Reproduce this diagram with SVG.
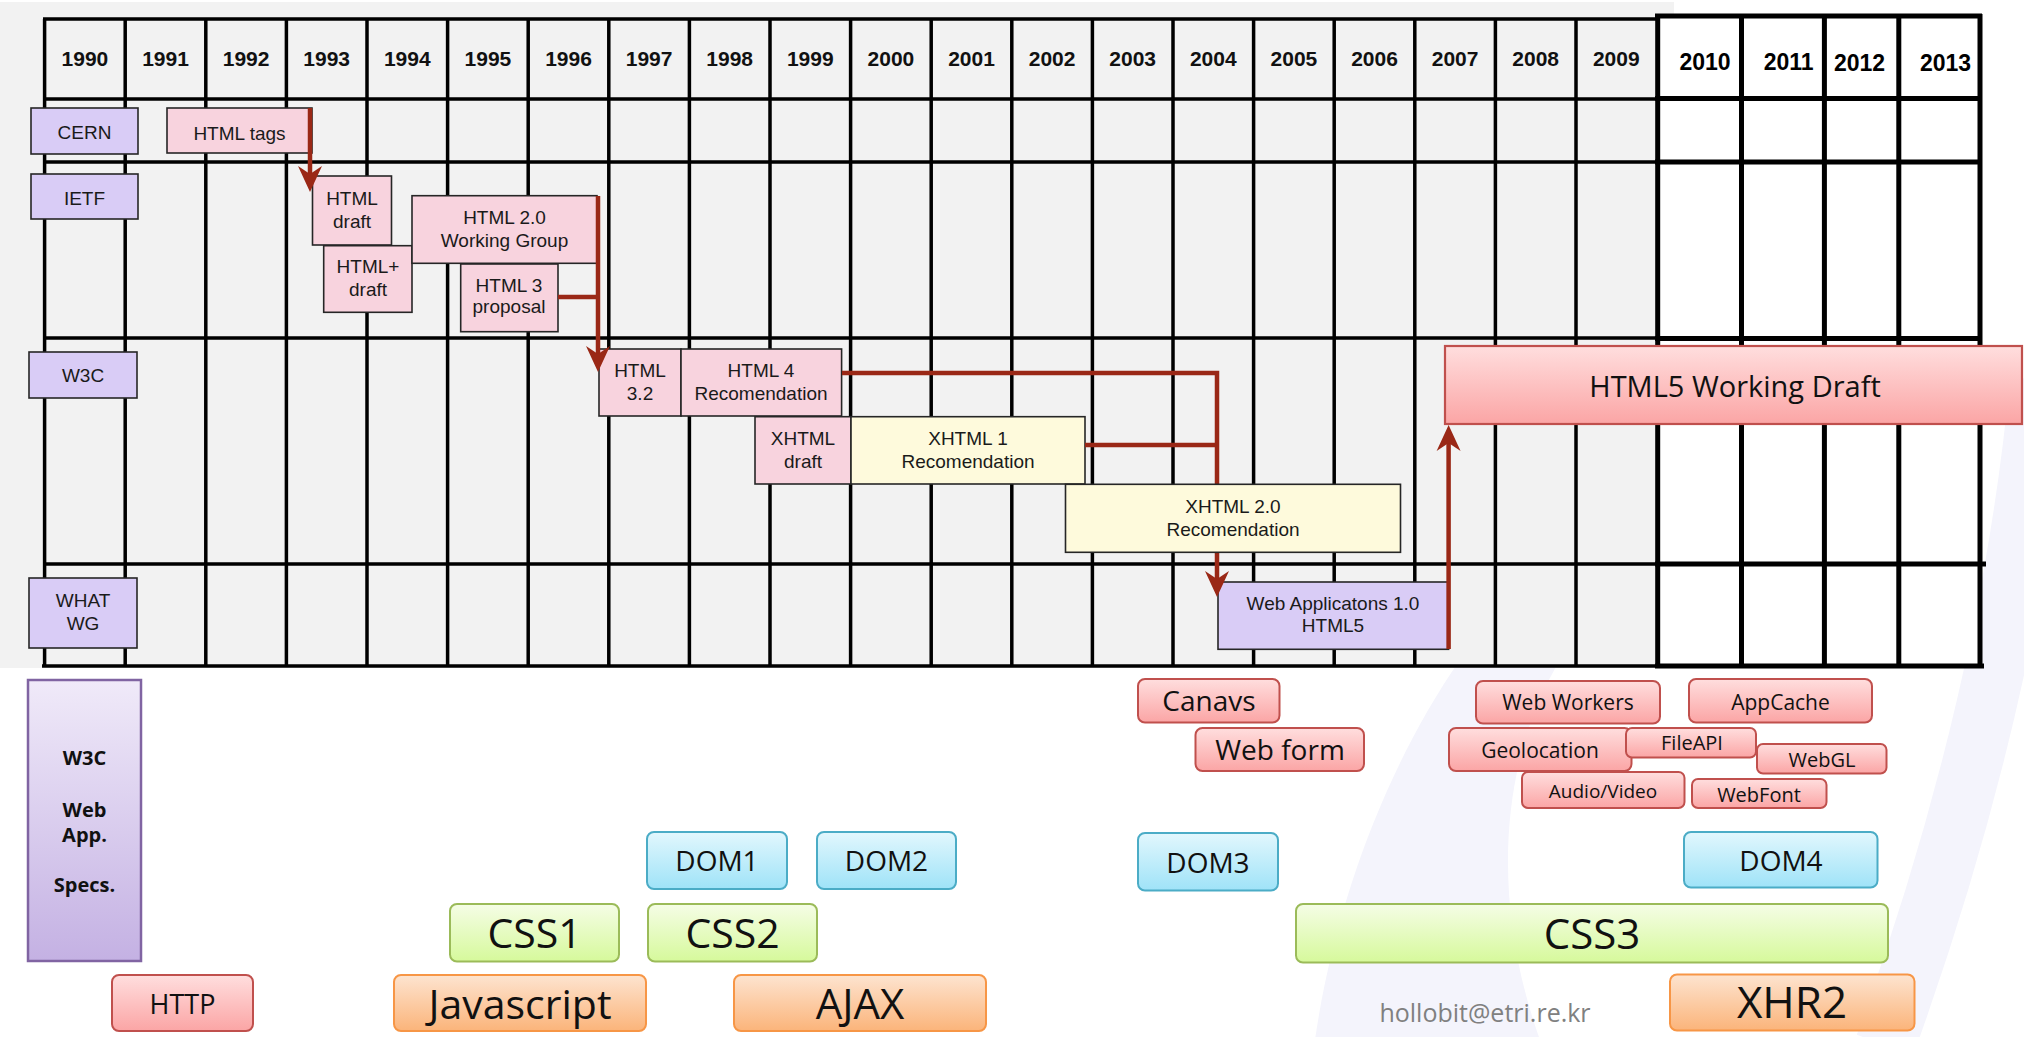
<svg xmlns="http://www.w3.org/2000/svg" width="2024" height="1037" viewBox="0 0 2024 1037">
<defs>
<style>
.g{font-family:"Liberation Sans",Arial,sans-serif;font-size:19px;fill:#1a1a1a;text-anchor:middle}
.yr{font-family:"Liberation Sans",Arial,sans-serif;font-weight:bold;font-size:21px;fill:#111;text-anchor:middle}
.yr2{font-family:"Liberation Sans",Arial,sans-serif;font-weight:bold;font-size:23px;fill:#000;text-anchor:middle}
.m{font-family:"Open Sans","Liberation Sans",sans-serif;fill:#111;text-anchor:middle}
.sp{font-family:"Open Sans","Liberation Sans",sans-serif;font-weight:bold;font-size:20px;fill:#111;text-anchor:middle}
.bx{stroke:#262626;stroke-width:1.6}
.pk{fill:#f8d3de}
.ye{fill:#fefadc}
.pu{fill:#d9ccf6}
.rP{fill:url(#gPink);stroke:#c0504d;stroke-width:2}
.rB{fill:url(#gBlue);stroke:#4bacc6;stroke-width:2}
.rG{fill:url(#gGreen);stroke:#9bbb59;stroke-width:2}
.rO{fill:url(#gOrange);stroke:#f79646;stroke-width:2}
.gl{fill:none;stroke:#000;stroke-width:3.5}
.gr{fill:none;stroke:#000;stroke-width:5}
.cn{fill:none;stroke:#9a2816;stroke-width:4.5}
</style>
<linearGradient id="gPink" x1="0" y1="0" x2="0" y2="1"><stop offset="0" stop-color="#ffdede"/><stop offset="1" stop-color="#fba5a5"/></linearGradient>
<linearGradient id="gBlue" x1="0" y1="0" x2="0" y2="1"><stop offset="0" stop-color="#e2f7fd"/><stop offset="1" stop-color="#9fe3f8"/></linearGradient>
<linearGradient id="gGreen" x1="0" y1="0" x2="0" y2="1"><stop offset="0" stop-color="#f5fde6"/><stop offset="1" stop-color="#d6f99b"/></linearGradient>
<linearGradient id="gOrange" x1="0" y1="0" x2="0" y2="1"><stop offset="0" stop-color="#fde4d0"/><stop offset="1" stop-color="#fbb47a"/></linearGradient>
<linearGradient id="gPurple" x1="0" y1="0" x2="0" y2="1"><stop offset="0" stop-color="#f0eaf9"/><stop offset="1" stop-color="#c4b1e3"/></linearGradient>
<marker id="ah" markerUnits="userSpaceOnUse" viewBox="-20 -14 34 28" refX="0" refY="0" markerWidth="34" markerHeight="28" orient="auto">
<path d="M10,0 L-16,-12 L-8,0 L-16,12 Z" fill="#9a2816"/>
</marker>
</defs>

<rect x="0" y="0" width="2024" height="1037" fill="#ffffff"/>
<g id="watermark" fill="#f4f4fc">
<path d="M1315,1040 C1335,900 1390,760 1460,660 L1560,660 C1500,760 1490,900 1540,1040 Z"/>
<path d="M2040,380 Q2010,700 1885,1045" fill="none" stroke="#f4f4fc" stroke-width="60"/>
</g>

<rect x="0" y="2" width="1674" height="666" fill="#f2f2f2"/>
<rect x="1657" y="16" width="323" height="650" fill="#ffffff"/>

<g id="grid">
<path class="gl" d="M44.6,19V666M125.2,19V666M205.8,19V666M286.4,19V666M367,19V666M447.6,19V666M528.2,19V666M608.8,19V666M689.4,19V666M770,19V666M850.6,19V666M931.2,19V666M1011.8,19V666M1092.4,19V666M1173,19V666M1253.6,19V666M1334.2,19V666M1414.8,19V666M1495.4,19V666M1576,19V666"/>
<path class="gl" d="M43,19H1657M43,99H1657M43,162H1657M43,338H1657M43,564H1657" stroke-width="4"/>
<path class="gl" d="M42,666H1657" stroke-width="7"/>
<path class="gr" d="M1657.7,14V668M1741.5,14V668M1824.4,14V668M1898.8,14V668M1980,14V668"/>
<path class="gr" d="M1655,16H1982M1655,98.5H1982M1655,162H1982M1655,338.5H1982M1655,564H1986"/>
<path class="gr" d="M1655,666H1984" stroke-width="7"/>
</g>

<g id="years">
<text class="yr" x="84.9" y="66">1990</text>
<text class="yr" x="165.5" y="66">1991</text>
<text class="yr" x="246.1" y="66">1992</text>
<text class="yr" x="326.7" y="66">1993</text>
<text class="yr" x="407.3" y="66">1994</text>
<text class="yr" x="487.9" y="66">1995</text>
<text class="yr" x="568.5" y="66">1996</text>
<text class="yr" x="649.1" y="66">1997</text>
<text class="yr" x="729.7" y="66">1998</text>
<text class="yr" x="810.3" y="66">1999</text>
<text class="yr" x="890.9" y="66">2000</text>
<text class="yr" x="971.5" y="66">2001</text>
<text class="yr" x="1052.1" y="66">2002</text>
<text class="yr" x="1132.7" y="66">2003</text>
<text class="yr" x="1213.3" y="66">2004</text>
<text class="yr" x="1293.9" y="66">2005</text>
<text class="yr" x="1374.5" y="66">2006</text>
<text class="yr" x="1455.1" y="66">2007</text>
<text class="yr" x="1535.7" y="66">2008</text>
<text class="yr" x="1616.3" y="66">2009</text>
<text class="yr2" x="1705" y="70">2010</text>
<text class="yr2" x="1788.6" y="70">2011</text>
<text class="yr2" x="1859.6" y="71">2012</text>
<text class="yr2" x="1945.6" y="71">2013</text>
</g>

<g id="cern"><rect class="bx pu" x="31" y="108" width="107" height="46"/><text class="g" x="84.5" y="139">CERN</text></g>
<g id="ietf"><rect class="bx pu" x="31" y="174" width="107" height="45"/><text class="g" x="84.5" y="205">IETF</text></g>
<g id="w3c"><rect class="bx pu" x="29" y="352" width="108" height="46"/><text class="g" x="83" y="382">W3C</text></g>
<g id="whatwg"><rect class="bx pu" x="29" y="578" width="108" height="70"/><text class="g" x="83" y="607">WHAT</text><text class="g" x="83" y="630">WG</text></g>

<g id="html-tags"><rect class="bx pk" x="167" y="108" width="145" height="45"/><text class="g" x="239.5" y="140">HTML tags</text></g>
<g id="html-draft"><rect class="bx pk" x="312.5" y="176" width="79" height="69"/><text class="g" x="352" y="205">HTML</text><text class="g" x="352" y="228">draft</text></g>
<g id="htmlplus-draft"><rect class="bx pk" x="323.7" y="245.7" width="88.3" height="66.6"/><text class="g" x="368" y="273">HTML+</text><text class="g" x="368" y="296">draft</text></g>
<g id="html20-wg"><rect class="bx pk" x="412" y="195.7" width="185" height="67.6"/><text class="g" x="504.5" y="224">HTML 2.0</text><text class="g" x="504.5" y="247">Working Group</text></g>
<g id="html3-proposal"><rect class="bx pk" x="460.7" y="264" width="97.3" height="67.7"/><text class="g" x="509" y="292">HTML 3</text><text class="g" x="509" y="313">proposal</text></g>
<g id="html32"><rect class="bx pk" x="599" y="349" width="82" height="67"/><text class="g" x="640" y="377">HTML</text><text class="g" x="640" y="400">3.2</text></g>
<g id="html4"><rect class="bx pk" x="681" y="349" width="160.6" height="67"/><text class="g" x="761" y="377">HTML 4</text><text class="g" x="761" y="400">Recomendation</text></g>
<g id="xhtml-draft"><rect class="bx pk" x="755" y="416.7" width="96" height="67.3"/><text class="g" x="803" y="445">XHTML</text><text class="g" x="803" y="468">draft</text></g>
<g id="xhtml1"><rect class="bx ye" x="851" y="416.7" width="234" height="67.3"/><text class="g" x="968" y="445">XHTML 1</text><text class="g" x="968" y="468">Recomendation</text></g>
<g id="webapps"><rect class="bx pu" x="1218" y="582" width="230.6" height="67.3"/><text class="g" x="1333" y="610">Web Applicatons 1.0</text><text class="g" x="1333" y="632">HTML5</text></g>

<g id="connectors">
<path class="cn" d="M310,108V182" marker-end="url(#ah)"/>
<path class="cn" d="M598,196V362" marker-end="url(#ah)"/>
<path class="cn" d="M558,297H598"/>
<path class="cn" d="M842,373H1217V587" marker-end="url(#ah)"/>
<path class="cn" d="M1085,445H1217"/>
<path class="cn" d="M1448.6,649V435" marker-end="url(#ah)"/>
</g>

<g id="xhtml2"><rect class="bx ye" x="1065.5" y="484.3" width="335" height="68"/><text class="g" x="1233" y="513">XHTML 2.0</text><text class="g" x="1233" y="536">Recomendation</text></g>

<g id="html5-wd"><rect x="1445" y="346" width="577" height="78" fill="url(#gPink)" stroke="#c0504d" stroke-width="2.2"/><text class="m" x="1735" y="397" font-size="29">HTML5 Working Draft</text></g>

<g id="w3c-specs"><rect x="28" y="680" width="113" height="281" fill="url(#gPurple)" stroke="#8064a2" stroke-width="2.5"/>
<text class="sp" x="84.5" y="765">W3C</text><text class="sp" x="84.5" y="817">Web</text><text class="sp" x="84.5" y="842">App.</text><text class="sp" x="84.5" y="892">Specs.</text></g>

<g id="http"><rect class="rP" x="112" y="975" width="141" height="56" rx="7"/><text class="m" x="182.5" y="1014" font-size="27">HTTP</text></g>
<g id="javascript"><rect class="rO" x="394" y="975" width="252" height="56" rx="7"/><text class="m" x="520" y="1019" font-size="41">Javascript</text></g>
<g id="ajax"><rect class="rO" x="734" y="975" width="252" height="56" rx="7"/><text class="m" x="860" y="1019" font-size="42">AJAX</text></g>
<g id="css1"><rect class="rG" x="450" y="904" width="169" height="57.5" rx="7"/><text class="m" x="534.5" y="948" font-size="41">CSS1</text></g>
<g id="css2"><rect class="rG" x="648" y="904" width="169" height="57.5" rx="7"/><text class="m" x="732.5" y="948" font-size="41">CSS2</text></g>
<g id="dom1"><rect class="rB" x="647" y="832" width="140" height="57" rx="7"/><text class="m" x="717" y="871" font-size="28">DOM1</text></g>
<g id="dom2"><rect class="rB" x="817" y="832" width="139" height="57" rx="7"/><text class="m" x="886.5" y="871" font-size="28">DOM2</text></g>
<g id="canvas"><rect class="rP" x="1138" y="679" width="141.5" height="43.5" rx="7"/><text class="m" x="1209" y="711" font-size="28">Canavs</text></g>
<g id="webform"><rect class="rP" x="1195.5" y="728" width="168.5" height="43" rx="7"/><text class="m" x="1280" y="760" font-size="28">Web form</text></g>
<g id="webworkers"><rect class="rP" x="1476" y="681" width="184" height="42.5" rx="7"/><text class="m" x="1568" y="710" font-size="21">Web Workers</text></g>
<g id="appcache"><rect class="rP" x="1689" y="679" width="183" height="43.5" rx="7"/><text class="m" x="1780.5" y="710" font-size="21">AppCache</text></g>
<g id="geolocation"><rect class="rP" x="1449" y="728" width="182.5" height="43" rx="7"/><text class="m" x="1540" y="758" font-size="21">Geolocation</text></g>
<g id="fileapi"><rect class="rP" x="1626" y="728" width="130" height="29.5" rx="6"/><text class="m" x="1692" y="750" font-size="20">FileAPI</text></g>
<g id="webgl"><rect class="rP" x="1757" y="744" width="129.5" height="29.5" rx="6"/><text class="m" x="1822" y="767" font-size="20">WebGL</text></g>
<g id="audiovideo"><rect class="rP" x="1522" y="772" width="162.5" height="36" rx="6"/><text class="m" x="1603" y="798" font-size="19">Audio/Video</text></g>
<g id="webfont"><rect class="rP" x="1692" y="779" width="134.5" height="29" rx="6"/><text class="m" x="1759" y="802" font-size="20">WebFont</text></g>
<g id="dom3"><rect class="rB" x="1138" y="833" width="140" height="57.5" rx="7"/><text class="m" x="1208" y="873" font-size="28">DOM3</text></g>
<g id="dom4"><rect class="rB" x="1684" y="832" width="193.5" height="55.5" rx="7"/><text class="m" x="1781" y="871" font-size="28">DOM4</text></g>
<g id="css3"><rect class="rG" x="1296" y="904" width="592" height="58.5" rx="7"/><text class="m" x="1592" y="949" font-size="42">CSS3</text></g>
<g id="xhr2"><rect class="rO" x="1670" y="974.5" width="244.5" height="56" rx="7"/><text class="m" x="1792" y="1018" font-size="44">XHR2</text></g>
<text x="1485" y="1022" font-family="'Open Sans','Liberation Sans',sans-serif" font-size="25" fill="#808080" text-anchor="middle">hollobit@etri.re.kr</text>
</svg>
